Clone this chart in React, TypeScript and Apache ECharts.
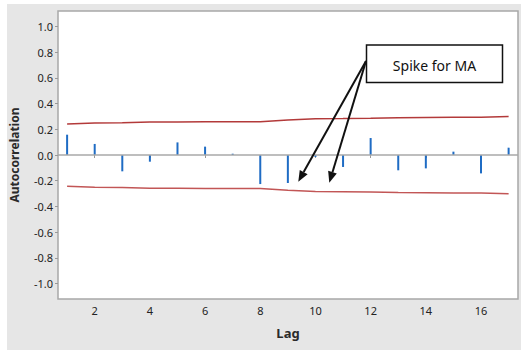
import React, { useEffect, useRef } from "react";
import * as echarts from "echarts";

const lags = [1, 2, 3, 4, 5, 6, 7, 8, 9, 10, 11, 12, 13, 14, 15, 16, 17];
const acf = [0.158, 0.086, -0.127, -0.052, 0.098, 0.065, 0.01, -0.226, -0.218, -0.015, -0.093, 0.132, -0.119, -0.104, 0.026, -0.143, 0.057];
const upperLimit = [0.241, 0.248, 0.25, 0.256, 0.257, 0.258, 0.259, 0.259, 0.272, 0.282, 0.283, 0.286, 0.29, 0.292, 0.294, 0.294, 0.299];
const lowerLimit = [-0.243, -0.25, -0.252, -0.258, -0.259, -0.26, -0.261, -0.261, -0.274, -0.284, -0.285, -0.288, -0.292, -0.294, -0.296, -0.296, -0.301];
const xTicks = [2, 4, 6, 8, 10, 12, 14, 16];
const yTicks = [-1, -0.8, -0.6, -0.4, -0.2, 0, 0.2, 0.4, 0.6, 0.8, 1];
const annotationText = "Spike for MA";

const FONT = "'Noto Sans', 'Open Sans', sans-serif";

export default function App() {
  const ref = useRef<HTMLDivElement>(null);
  useEffect(() => {
    if (!ref.current) return;
    const chart = echarts.init(ref.current, null, { renderer: "svg" });
    const arrows = [
      { sx: 366, sy: 61, tx: 298.3, ty: 181.7 },
      { sx: 366, sy: 61, tx: 329.3, ty: 182.7 },
    ];
    const arrowGraphics: any[] = [];
    arrows.forEach((a) => {
      const dx = a.tx - a.sx;
      const dy = a.ty - a.sy;
      const len = Math.sqrt(dx * dx + dy * dy);
      const ux = dx / len;
      const uy = dy / len;
      const hl = 11;
      const hw = 4.5;
      const bx = a.tx - ux * hl;
      const by = a.ty - uy * hl;
      const px = -uy;
      const py = ux;
      arrowGraphics.push({
        type: "line",
        shape: { x1: a.sx, y1: a.sy, x2: bx, y2: by },
        style: { stroke: "#111", lineWidth: 2 },
        z: 100,
      });
      arrowGraphics.push({
        type: "polygon",
        shape: {
          points: [
            [a.tx, a.ty],
            [bx + px * hw, by + py * hw],
            [bx - px * hw, by - py * hw],
          ],
        },
        style: { fill: "#111" },
        z: 100,
      });
    });
    chart.setOption({
      animation: false,
      backgroundColor: "transparent",
      textStyle: { fontFamily: FONT },
      grid: {
        left: 58,
        top: 11,
        width: 460,
        height: 288,
        show: true,
        backgroundColor: "#ffffff",
        borderColor: "#a8a8a8",
        borderWidth: 1.5,
      },
      xAxis: {
        type: "value",
        min: 0.67,
        max: 17.34,
        name: "Lag",
        nameLocation: "middle",
        nameGap: 27,
        nameTextStyle: { fontFamily: FONT, fontSize: 13, fontWeight: "bold", color: "#2a2a2a" },
        axisLine: { show: false },
        splitLine: { show: false },
        axisTick: { show: true, length: 3, lineStyle: { color: "#999" }, customValues: xTicks },
        axisLabel: {
          customValues: xTicks,
          fontFamily: FONT,
          fontSize: 11,
          color: "#222",
          margin: 6,
        },
      },
      yAxis: {
        type: "value",
        min: -1.12,
        max: 1.12,
        name: "Autocorrelation",
        nameLocation: "middle",
        nameGap: 38,
        nameTextStyle: { fontFamily: FONT, fontSize: 12, fontWeight: "bold", color: "#2a2a2a" },
        axisLine: { show: false },
        splitLine: { show: false },
        axisTick: {
          show: true,
          length: 3,
          lineStyle: { color: "#999" },
          customValues: yTicks,
        },
        axisLabel: {
          customValues: yTicks,
          formatter: (v: number) => v.toFixed(1),
          fontFamily: FONT,
          fontSize: 11,
          color: "#222",
          margin: 5,
        },
      },
      series: [
        {
          type: "bar",
          data: lags.map((l, i) => [l, acf[i]]),
          barWidth: 2,
          itemStyle: { color: "#1f6cc4" },
          markLine: {
            silent: true,
            symbol: "none",
            label: { show: false },
            lineStyle: { color: "#a8a8a8", width: 1.5, type: "solid" },
            data: [{ yAxis: 0 }],
          },
          z: 3,
        },
        {
          type: "line",
          data: lags.map((l, i) => [l, upperLimit[i]]),
          symbol: "none",
          lineStyle: { color: "#b33a3a", width: 1.5 },
          z: 2,
        },
        {
          type: "line",
          data: lags.map((l, i) => [l, lowerLimit[i]]),
          symbol: "none",
          lineStyle: { color: "#c25656", width: 1.5 },
          z: 2,
        },
      ],
      graphic: [
        {
          type: "rect",
          shape: { x: 366.5, y: 45, width: 136, height: 37.5 },
          style: { fill: "#ffffff", stroke: "#111", lineWidth: 1.5 },
          z: 100,
        },
        {
          type: "text",
          x: 434.5,
          y: 65,
          style: {
            text: annotationText,
            fill: "#111",
            font: "14px " + FONT,
            align: "center",
            verticalAlign: "middle",
          },
          z: 101,
        },
        ...arrowGraphics,
      ],
    });
    return () => chart.dispose();
  }, []);
  return (
    <div style={{ position: "fixed", left: 0, top: 0, width: 521, height: 350, background: "#ffffff" }}>
      <div style={{ position: "absolute", left: 7, top: 4, right: 0, bottom: 0, background: "#e6e6e6" }} />
      <div ref={ref} style={{ position: "absolute", left: 0, top: 0, width: 521, height: 350 }} />
    </div>
  );
}
